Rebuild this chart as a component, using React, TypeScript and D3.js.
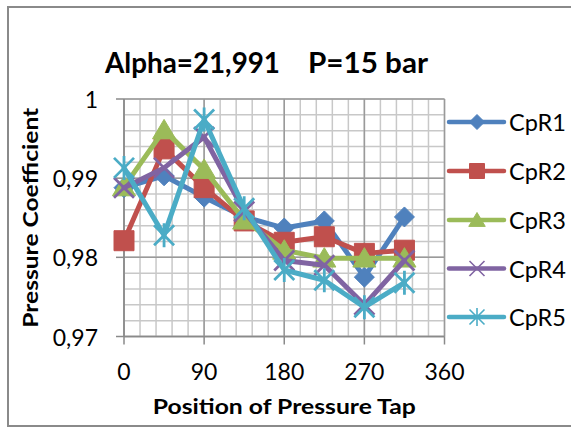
import React from "react";
import * as d3 from "d3";

// Pressure tap positions (degrees) and pressure coefficient per run
const positions = [0, 45, 90, 135, 180, 225, 270, 315];
const cpR1 = [0.9888, 0.9903, 0.9876, 0.9851, 0.9837, 0.9846, 0.9775, 0.9851];
const cpR2 = [0.9821, 0.9937, 0.9888, 0.9846, 0.9819, 0.9826, 0.9805, 0.9809];
const cpR3 = [0.9889, 0.9961, 0.9911, 0.9847, 0.9809, 0.9799, 0.9799, 0.9799];
const cpR4 = [0.9888, 0.9913, 0.9952, 0.9858, 0.9796, 0.979, 0.974, 0.9796];
const cpR5 = [0.9913, 0.9828, 0.9974, 0.9862, 0.9784, 0.9771, 0.9737, 0.9768];

const seriesNames = ["CpR1", "CpR2", "CpR3", "CpR4", "CpR5"];
const seriesValues = [cpR1, cpR2, cpR3, cpR4, cpR5];
const seriesColors = ["#4f81bd", "#c0504d", "#9bbb59", "#8064a2", "#4bacc6"];
const seriesMarkers = ["diamond", "square", "triangle", "x", "star"];

const xTicks = [0, 90, 180, 270, 360];
const xTickLabels = ["0", "90", "180", "270", "360"];
const yTicks = [0.97, 0.98, 0.99, 1];
const yTickLabels = ["0,97", "0,98", "0,99", "1"];

const titleLeft = "Alpha=21,991";
const titleRight = "P=15 bar";
const xTitle = "Position of Pressure Tap";
const yTitle = "Pressure Coefficient";

const W = 571;
const H = 428;
const FONT = "Lato, 'Open Sans', sans-serif";

function markerPath(kind: string, r: number): string {
  switch (kind) {
    case "diamond":
      return `M0,${-r}L${r},0L0,${r}L${-r},0Z`;
    case "square":
      return `M${-r},${-r}H${r}V${r}H${-r}Z`;
    case "triangle":
      return `M0,${-r}L${r * 1.1},${r * 0.85}L${-r * 1.1},${r * 0.85}Z`;
    case "x":
      return `M${-r},${-r}L${r},${r}M${r},${-r}L${-r},${r}`;
    case "star":
      return `M${-r},${-r}L${r},${r}M${r},${-r}L${-r},${r}M0,${-r * 1.2}L0,${r * 1.2}`;
    default:
      return "";
  }
}

function Marker({ kind, color, r, cx, cy, thin }: { kind: string; color: string; r: number; cx: number; cy: number; thin?: boolean }) {
  const stroked = kind === "x" || kind === "star";
  return (
    <path
      transform={`translate(${cx},${cy})`}
      d={markerPath(kind, r)}
      fill={stroked ? "none" : color}
      stroke={color}
      strokeWidth={stroked ? (thin ? 1.6 : 2.8) : 1}
      strokeLinejoin="miter"
    />
  );
}

export default function App() {
  const x = d3.scaleLinear().domain([0, 360]).range([124, 444.5]);
  const y = d3.scaleLinear().domain([0.97, 1]).range([336.5, 99]);

  const minorX = d3.range(0, 361, 18);
  const minorY = d3.range(0, 16).map((i) => 0.97 + i * 0.002);

  const line = d3
    .line<number>()
    .x((_, i) => x(positions[i]))
    .y((d) => y(d));

  const legendY = [122, 171, 220, 268.5, 317];

  return (
    <svg
      width={W}
      height={H}
      viewBox={`0 0 ${W} ${H}`}
      style={{ position: "absolute", left: 0, top: 0, background: "#fff" }}
      fontFamily={FONT}
    >
      <rect x={0} y={0} width={W} height={H} fill="#fff" />
      {/* chart frame */}
      <rect x={8} y={7} width={W + 20} height={419} fill="none" stroke="#8a8a8a" strokeWidth={2} />

      {/* title */}
      <text x={105} y={73} fontSize={28} fontWeight="bold" fill="#000" textLength={175} lengthAdjust="spacingAndGlyphs">
        {titleLeft}
      </text>
      <text x={308} y={73} fontSize={28} fontWeight="bold" fill="#000" textLength={120} lengthAdjust="spacingAndGlyphs">
        {titleRight}
      </text>

      {/* minor gridlines */}
      <g stroke="#c8c8c8" strokeWidth={1.5}>
        {minorX.map((v) => (
          <line key={`mx${v}`} x1={x(v)} x2={x(v)} y1={y(1)} y2={y(0.97)} />
        ))}
        {minorY.map((v) => (
          <line key={`my${v}`} x1={x(0)} x2={x(360)} y1={y(v)} y2={y(v)} />
        ))}
      </g>
      {/* major gridlines */}
      <g stroke="#9a9a9a" strokeWidth={1.5}>
        {xTicks.map((v) => (
          <line key={`gx${v}`} x1={x(v)} x2={x(v)} y1={y(1)} y2={y(0.97)} />
        ))}
        {yTicks.map((v) => (
          <line key={`gy${v}`} x1={x(0)} x2={x(360)} y1={y(v)} y2={y(v)} />
        ))}
      </g>

      {/* axes and tick marks */}
      <g stroke="#8a8a8a" strokeWidth={1.5}>
        <line x1={x(0)} x2={x(0)} y1={y(1)} y2={y(0.97)} />
        <line x1={x(0)} x2={x(360)} y1={y(0.97)} y2={y(0.97)} />
        {yTicks.map((v) => (
          <line key={`ty${v}`} x1={x(0) - 8} x2={x(0)} y1={y(v)} y2={y(v)} />
        ))}
        {xTicks.map((v) => (
          <line key={`tx${v}`} x1={x(v)} x2={x(v)} y1={y(0.97)} y2={y(0.97) + 8} />
        ))}
      </g>

      {/* tick labels */}
      <g fontSize={23} fill="#000">
        {yTicks.map((v, i) => (
          <text key={`ly${v}`} x={98} y={y(v)} textAnchor="end" dominantBaseline="central">
            {yTickLabels[i]}
          </text>
        ))}
        {xTicks.map((v, i) => (
          <text key={`lx${v}`} x={x(v)} y={380} textAnchor="middle">
            {xTickLabels[i]}
          </text>
        ))}
      </g>

      {/* axis titles */}
      <text
        x={(x(0) + x(360)) / 2}
        y={414}
        textAnchor="middle"
        fontSize={21.5}
        fontWeight="bold"
        textLength={263}
        lengthAdjust="spacingAndGlyphs"
      >
        {xTitle}
      </text>
      <text
        transform={`translate(38,${(y(1) + y(0.97)) / 2}) rotate(-90)`}
        textAnchor="middle"
        fontSize={21.5}
        fontWeight="bold"
        textLength={220}
        lengthAdjust="spacingAndGlyphs"
      >
        {yTitle}
      </text>

      {/* series */}
      {seriesValues.map((vals, s) => (
        <g key={seriesNames[s]}>
          <path
            d={line(vals) || ""}
            fill="none"
            stroke={seriesColors[s]}
            strokeWidth={5}
            strokeLinejoin="round"
            strokeLinecap="round"
          />
          {vals.map((v, i) => (
            <Marker
              key={i}
              kind={seriesMarkers[s]}
              color={seriesColors[s]}
              r={s === 2 ? 10.5 : 10}
              cx={x(positions[i])}
              cy={y(v)}
            />
          ))}
        </g>
      ))}

      {/* legend */}
      {seriesNames.map((name, s) => (
        <g key={`lg${name}`}>
          <line x1={449} x2={504} y1={legendY[s]} y2={legendY[s]} stroke={seriesColors[s]} strokeWidth={4.5} strokeLinecap="round" />
          <Marker kind={seriesMarkers[s]} color={seriesColors[s]} r={7.5} cx={477} cy={legendY[s]} thin />
          <text x={509} y={legendY[s]} dominantBaseline="central" fontSize={23.5} fill="#000">
            {name}
          </text>
        </g>
      ))}
    </svg>
  );
}
